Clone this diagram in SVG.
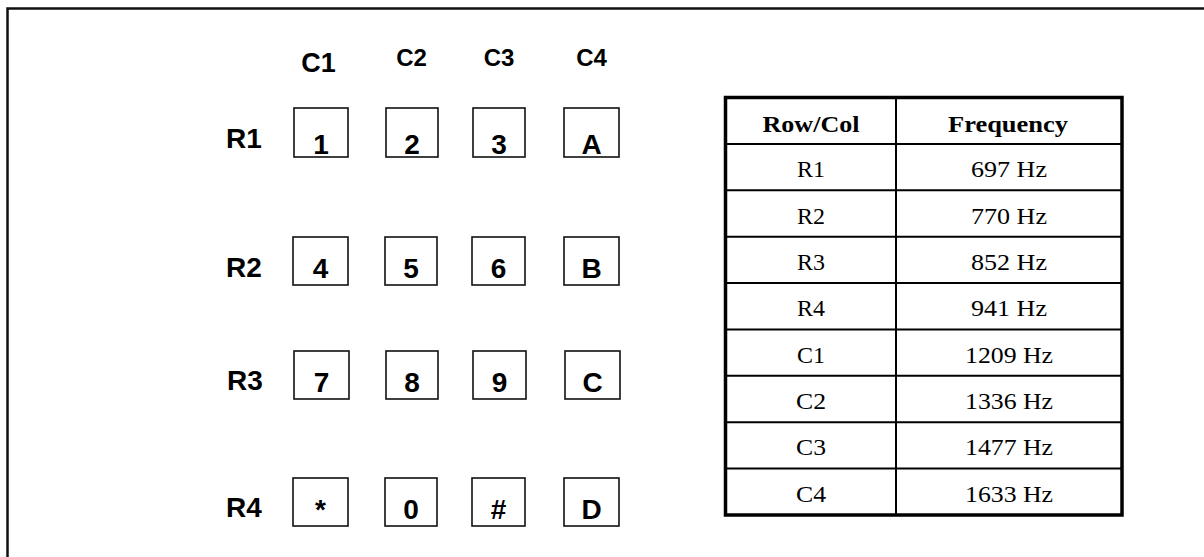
<svg xmlns="http://www.w3.org/2000/svg" width="1204" height="557" viewBox="0 0 1204 557">
<style>
.frame{fill:none;stroke:#111;stroke-width:2.5}
.key rect{fill:#fff;stroke:#111;stroke-width:1.6}
.k{font-family:"Liberation Sans",Arial,sans-serif;font-weight:bold;font-size:28px;fill:#000;text-anchor:middle}
.rl{font-family:"Liberation Sans",Arial,sans-serif;font-weight:bold;font-size:28px;fill:#000}
.cl{font-family:"Liberation Sans",Arial,sans-serif;font-weight:bold;font-size:24px;fill:#000;text-anchor:middle}
.tb{fill:none;stroke:#000;stroke-width:3.5}
.tl{stroke:#000;stroke-width:2}
.th{font-family:"Liberation Serif","Times New Roman",serif;font-weight:bold;font-size:24px;fill:#000;text-anchor:middle}
.td{font-family:"Liberation Serif","Times New Roman",serif;font-size:24px;fill:#000;text-anchor:middle}
</style>
<rect x="0" y="0" width="1204" height="557" fill="#fff"/>
<rect class="frame" x="7.5" y="8.5" width="1300" height="600"/>

<g id="col-labels">
<text class="cl" x="318.5" y="72" style="font-size:27px">C1</text>
<text class="cl" x="411.5" y="66">C2</text>
<text class="cl" x="499" y="66">C3</text>
<text class="cl" x="591.5" y="66">C4</text>
</g>

<g id="row-labels">
<text class="rl" x="226" y="148">R1</text>
<text class="rl" x="226" y="277">R2</text>
<text class="rl" x="227" y="390">R3</text>
<text class="rl" x="226" y="517">R4</text>
</g>

<g id="key-1" class="key"><rect x="294" y="108" width="54" height="49"/><text class="k" x="321" y="153.5">1</text></g>
<g id="key-2" class="key"><rect x="386" y="108" width="52" height="49"/><text class="k" x="412" y="153.5">2</text></g>
<g id="key-3" class="key"><rect x="473" y="108" width="52" height="49"/><text class="k" x="499" y="153.5">3</text></g>
<g id="key-A" class="key"><rect x="564" y="108" width="55" height="49"/><text class="k" x="591.5" y="153.5">A</text></g>

<g id="key-4" class="key"><rect x="293" y="237" width="55" height="48"/><text class="k" x="320.5" y="278">4</text></g>
<g id="key-5" class="key"><rect x="385" y="237" width="52" height="48"/><text class="k" x="411" y="278">5</text></g>
<g id="key-6" class="key"><rect x="472" y="237" width="53" height="48"/><text class="k" x="498.5" y="278">6</text></g>
<g id="key-B" class="key"><rect x="564" y="237" width="55" height="48"/><text class="k" x="591.5" y="278">B</text></g>

<g id="key-7" class="key"><rect x="294" y="351" width="55" height="48"/><text class="k" x="321.5" y="392">7</text></g>
<g id="key-8" class="key"><rect x="386" y="351" width="52" height="48"/><text class="k" x="412" y="392">8</text></g>
<g id="key-9" class="key"><rect x="473" y="351" width="53" height="48"/><text class="k" x="499.5" y="392">9</text></g>
<g id="key-C" class="key"><rect x="565" y="351" width="55" height="48"/><text class="k" x="592.5" y="392">C</text></g>

<g id="key-star" class="key"><rect x="293" y="478" width="55" height="48"/><text class="k" x="320.5" y="519">*</text></g>
<g id="key-0" class="key"><rect x="385" y="478" width="52" height="48"/><text class="k" x="411" y="519">0</text></g>
<g id="key-hash" class="key"><rect x="472" y="478" width="53" height="48"/><text class="k" x="498.5" y="519">#</text></g>
<g id="key-D" class="key"><rect x="564" y="478" width="55" height="48"/><text class="k" x="591.5" y="519">D</text></g>

<g id="freq-table">
<line class="tl" x1="896" y1="97.5" x2="896" y2="515"/>
<line class="tl" x1="725.5" y1="144" x2="1122" y2="144"/>
<line class="tl" x1="725.5" y1="190.3" x2="1122" y2="190.3"/>
<line class="tl" x1="725.5" y1="236.7" x2="1122" y2="236.7"/>
<line class="tl" x1="725.5" y1="283.1" x2="1122" y2="283.1"/>
<line class="tl" x1="725.5" y1="329.4" x2="1122" y2="329.4"/>
<line class="tl" x1="725.5" y1="375.8" x2="1122" y2="375.8"/>
<line class="tl" x1="725.5" y1="422.2" x2="1122" y2="422.2"/>
<line class="tl" x1="725.5" y1="468.6" x2="1122" y2="468.6"/>
<rect class="tb" x="725.5" y="97.5" width="396.5" height="417.5"/>
<text class="th" x="811" y="132" textLength="97" lengthAdjust="spacingAndGlyphs">Row/Col</text>
<text class="th" x="1008" y="132" textLength="120" lengthAdjust="spacingAndGlyphs">Frequency</text>
<text class="td" x="811" y="177" textLength="28" lengthAdjust="spacingAndGlyphs">R1</text>
<text class="td" x="1009" y="177" textLength="76" lengthAdjust="spacingAndGlyphs">697 Hz</text>
<text class="td" x="811" y="223.5" textLength="28" lengthAdjust="spacingAndGlyphs">R2</text>
<text class="td" x="1009" y="223.5" textLength="76" lengthAdjust="spacingAndGlyphs">770 Hz</text>
<text class="td" x="811" y="270" textLength="28" lengthAdjust="spacingAndGlyphs">R3</text>
<text class="td" x="1009" y="270" textLength="76" lengthAdjust="spacingAndGlyphs">852 Hz</text>
<text class="td" x="811" y="316.3" textLength="28" lengthAdjust="spacingAndGlyphs">R4</text>
<text class="td" x="1009" y="316.3" textLength="76" lengthAdjust="spacingAndGlyphs">941 Hz</text>
<text class="td" x="811" y="362.6" textLength="28" lengthAdjust="spacingAndGlyphs">C1</text>
<text class="td" x="1009" y="362.6" textLength="88" lengthAdjust="spacingAndGlyphs">1209 Hz</text>
<text class="td" x="811" y="409" textLength="30" lengthAdjust="spacingAndGlyphs">C2</text>
<text class="td" x="1009" y="409" textLength="88" lengthAdjust="spacingAndGlyphs">1336 Hz</text>
<text class="td" x="811" y="455.4" textLength="30" lengthAdjust="spacingAndGlyphs">C3</text>
<text class="td" x="1009" y="455.4" textLength="88" lengthAdjust="spacingAndGlyphs">1477 Hz</text>
<text class="td" x="811" y="501.8" textLength="30" lengthAdjust="spacingAndGlyphs">C4</text>
<text class="td" x="1009" y="501.8" textLength="88" lengthAdjust="spacingAndGlyphs">1633 Hz</text>
</g>
<g id="connectors"/>
</svg>
